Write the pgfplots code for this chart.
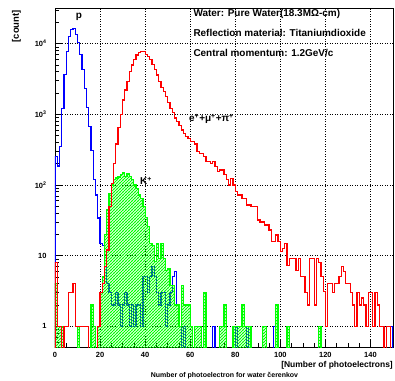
\documentclass[border=0pt]{standalone}
\usepackage{fontspec}
\setmainfont{Liberation Sans}
\usepackage{pgfplots}
\pgfplotsset{compat=1.18}
\usetikzlibrary{patterns}
\pgfdeclarepatterninherentlycolored{greenhatch}{\pgfpoint{-1bp}{-1bp}}{\pgfpoint{4bp}{4bp}}{\pgfpoint{3bp}{3bp}}{%
  \pgfsetcolor{green}%
  \pgfsetlinewidth{0.8bp}%
  \pgfpathmoveto{\pgfpoint{-0.5bp}{-0.5bp}}%
  \pgfpathlineto{\pgfpoint{3.5bp}{3.5bp}}%
  \pgfusepath{stroke}}
\begin{document}
\begin{tikzpicture}
\useasboundingbox (-55bp,-34bp) rectangle (340bp,347bp);
\begin{axis}[
  at={(0,0)}, anchor=south west,
  scale only axis, width=338bp, height=339bp,
  ymode=log, xmin=0, xmax=150, ymin=0.508, ymax=32000,
  axis line style={black, line width=0.8bp},
  tick align=inside, xtick pos=left, ytick pos=left,
  xtick={0,20,...,140}, minor x tick num=3,
  ytick={1,10,100,1000,10000},
  yticklabels={1,10,10\textsuperscript{2},10\textsuperscript{3},10\textsuperscript{4}},
  minor ytick={0.6,0.7,0.8,0.9,2,3,4,5,6,7,8,9,20,30,40,50,60,70,80,90,200,300,400,500,600,700,800,900,2000,3000,4000,5000,6000,7000,8000,9000,20000,30000},
  major tick length=8bp, minor tick length=4bp,
  tick style={black, line width=0.6bp},
  grid=major,
  major grid style={black, line width=0.6bp, dash pattern=on 1bp off 1.5bp},
  /pgf/number format/assume math mode=true,
  ticklabel style={font=\bfseries\fontsize{7.5}{8}\selectfont},
  xticklabel style={yshift=-2bp},
  yticklabel style={xshift=-5bp},
  clip=true,
  every axis plot/.append style={line width=1.25bp},
]
% blue : p
\addplot[color=blue, const plot mark left] table {
x y
0 0.01
0 250
1 185
2 350
3 1200
4 3700
5 7800
6 12500
7 15800
8 16300
9 13500
10 10500
11 7000
12 4300
13 2300
14 1250
15 670
16 310
17 120
18 72
19 34
20 15
21 14
22 8.5
23 4
24 3
25 2
27 3
28 2
29 1
30 2
31 3
32 2
33 1
34 2
35 1
36 2
38 1
39 5
41 3
42 5
43 7
44 5
45 3
46 2
47 3
49 1
50 2
51 3
52 5
53 6
54 2
55 1
56 0.01
57 1
58 0.01
70 1
71 0.01
80 1
81 0.01
85 1
86 0.01
97 1
98 0.01
149 1
150 1
150 0.01
};
% green : K+
\addplot[color=green, const plot mark left, pattern=greenhatch] table {
x y
0 0.01
0 4
1 1
4 0.01
10 1
11 0.01
16 2
17 1
18 0.01
19 1
20 3
21 5
22 20
23 45
24 75
25 100
26 118
27 125
28 130
29 139
30 150
31 131
32 146
33 131
34 118
35 100
36 90
37 72
38 65
39 49
40 35
41 26
42 15
43 14
44 8.2
45 15
46 9
47 15
48 9.1
49 6.2
50 6.5
51 3.8
53 2
55 1
56 3.8
57 2
60 1
61 0.01
62 1
65 0.01
66 3
67 0.01
73 1
75 2
76 0.01
79 1
83 2
84 1
87 0.01
92 1
94 0.01
98 2
99 0.01
103 1
104 0.01
117 1
118 0.01
150 0.01
} -- cycle;
% red : e+mu+pi
\addplot[color=red, const plot mark left] table {
x y
0 0.01
0 8
1 1
3 0.01
4 1
6 3
8 4
9 1
15 0.01
19 1
20 3
21 4
22 7
23 12
24 50
25 105
26 200
27 380
28 650
29 1000
30 1600
31 2200
32 2900
33 4000
34 5000
35 5900
36 6900
37 7500
38 7800
40 7100
41 6600
42 5900
43 5100
44 4300
45 3600
46 2900
47 2400
48 2100
49 1800
50 1480
51 1200
52 1070
53 890
54 800
55 690
56 600
57 530
58 480
59 450
60 411
62 380
63 296
64 282
66 253
67 214
69 203
70 214
71 182
72 154
73 163
75 139
76 118
77 100
78 124
79 100
80 80
81 72
83 65
85 52
87 49
90 32
91 30
93 27
95 23
96 15.7
98 19.5
99 15.7
100 11.3
101 12.6
102 14.9
103 7.3
104 9.1
107 6.2
108 9.1
109 5.1
111 3
112 2
113 9.1
115 2
116 9.1
117 8
118 5
119 3.1
120 1
121 4
123 3
124 4
126 5
127 7
128 6
129 4
131 3
132 2
133 1
134 3
135 2
136 2.5
137 2
138 1
139 3
141 1
142 3
143 2
144 1
146 0.01
147 1
149 0.01
150 0.01
};
\end{axis}
\begin{scope}[every node/.style={inner sep=0pt, font=\bfseries\fontsize{10}{12}\selectfont}]
\node[anchor=base west] at (138.3bp,330.3bp) {Water: Pure Water(18.3MΩ-cm)};
\node[anchor=base west] at (138.3bp,310.5bp) {Reflection material: Titaniumdioxide};
\node[anchor=base west] at (138.3bp,290bp) {Central momentum: 1.2GeV/c};
\node[anchor=base] at (24bp,328.5bp) {p};
\node[anchor=base west] at (134bp,225bp) {e\textsuperscript{+}+μ\textsuperscript{+}+π\textsuperscript{+}};
\node[anchor=base west] at (85bp,162bp) {K\textsuperscript{+}};
\node[anchor=base east, font=\bfseries\fontsize{8.5}{10}\selectfont] at (338bp,-20bp) {[Number of photoelectrons]};
\node[anchor=base, font=\bfseries\fontsize{7}{8}\selectfont] at (169.5bp,-30.5bp) {Number of photoelectron for water čerenkov};
\node[anchor=east, rotate=90, font=\bfseries\fontsize{9.5}{10}\selectfont] at (-38.5bp,337bp) {[count]};
\end{scope}
\end{tikzpicture}
\end{document}
